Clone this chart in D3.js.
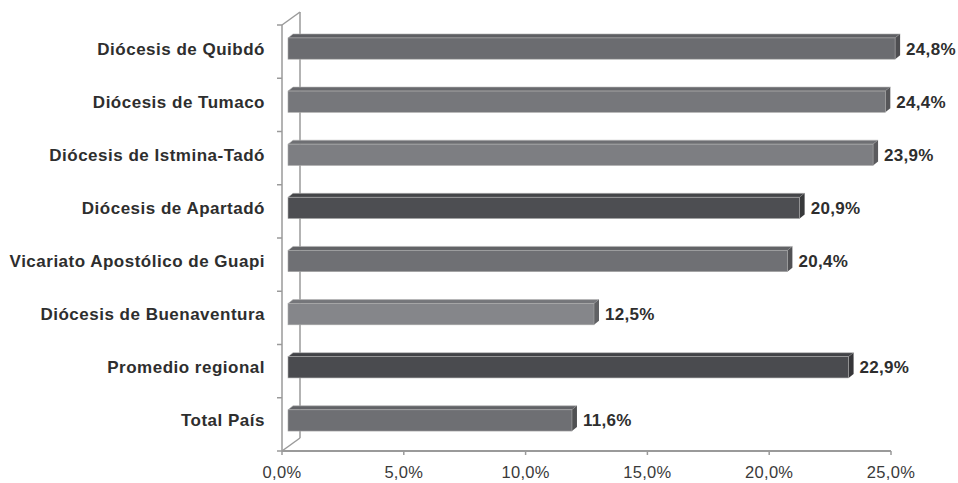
<!DOCTYPE html>
<html>
<head>
<meta charset="utf-8">
<script src="https://cdn.jsdelivr.net/npm/d3@7"></script>
<style>
  html, body { margin: 0; padding: 0; background: #fff; }
  svg { display: block; }
</style>
</head>
<body>
<svg id="chart" width="958" height="483"></svg>
<script>
// ---- data ----
const categories = [
  "Diócesis de Quibdó",
  "Diócesis de Tumaco",
  "Diócesis de Istmina-Tadó",
  "Diócesis de Apartadó",
  "Vicariato Apostólico de Guapi",
  "Diócesis de Buenaventura",
  "Promedio regional",
  "Total País"
];
const values = [24.8, 24.4, 23.9, 20.9, 20.4, 12.5, 22.9, 11.6];
const tickValues = [0, 5, 10, 15, 20, 25];
const barColors = ["#6b6c70", "#76777b", "#7d7e82", "#4d4e52", "#6f7074", "#85868a", "#4a4b4f", "#6e6f73"];

// ---- layout ----
const svg = d3.select("#chart");
const locale = d3.formatLocale({decimal: ",", thousands: ".", grouping: [3], currency: ["", ""]});
const fmt = v => locale.format(".1f")(v) + "%";

const xAxisScale = d3.scaleLinear().domain([0, 25]).range([282, 891]);
const xBar = d3.scaleLinear().domain([0, 25]).range([288, 900]);
const y = d3.scaleBand().domain(categories).range([22, 447]).paddingInner(0.6).paddingOuter(0.3);
const bounds = d3.scaleLinear().domain([0, categories.length]).range([25, 451]);

const dx = 5, dy = 4;
const wallDx = 18, wallDy = 13;
const gridCol = "#9a9a9a";
const fontFam = "Liberation Sans, Arial, sans-serif";

// walls
const g = svg.append("g");
const x0 = xAxisScale(0);
g.append("line").attr("x1", x0 + wallDx).attr("x2", x0 + wallDx)
  .attr("y1", bounds(0) - wallDy).attr("y2", bounds(categories.length) - wallDy)
  .attr("stroke", gridCol).attr("stroke-width", 1.5);
g.append("line").attr("x1", x0).attr("x2", x0 + wallDx)
  .attr("y1", bounds(0)).attr("y2", bounds(0) - wallDy)
  .attr("stroke", gridCol).attr("stroke-width", 1.5);
g.append("line").attr("x1", x0).attr("x2", x0 + wallDx)
  .attr("y1", bounds(categories.length)).attr("y2", bounds(categories.length) - wallDy)
  .attr("stroke", gridCol).attr("stroke-width", 1.5);
g.append("line").attr("x1", x0).attr("x2", x0)
  .attr("y1", bounds(0)).attr("y2", bounds(categories.length))
  .attr("stroke", gridCol).attr("stroke-width", 1.5);
g.selectAll(".ctick").data(d3.range(categories.length + 1)).join("line")
  .attr("x1", x0 - 5).attr("x2", x0)
  .attr("y1", d => bounds(d)).attr("y2", d => bounds(d))
  .attr("stroke", gridCol).attr("stroke-width", 1.5);

// value axis
g.append("line").attr("x1", x0).attr("x2", xAxisScale(25))
  .attr("y1", bounds(categories.length)).attr("y2", bounds(categories.length))
  .attr("stroke", gridCol).attr("stroke-width", 2);
g.selectAll(".vtick").data(tickValues).join("line")
  .attr("x1", d => xAxisScale(d)).attr("x2", d => xAxisScale(d))
  .attr("y1", bounds(categories.length)).attr("y2", bounds(categories.length) + 4)
  .attr("stroke", gridCol).attr("stroke-width", 1.5);
g.selectAll(".vlabel").data(tickValues).join("text")
  .attr("x", d => xAxisScale(d)).attr("y", 478)
  .attr("text-anchor", "middle")
  .attr("font-family", fontFam)
  .attr("font-size", 16.5).attr("letter-spacing", 0.3).attr("fill", "#3a3a3a")
  .text(d => fmt(d));

// bars
const bars = svg.append("g");
categories.forEach((c, i) => {
  const v = values[i];
  const xl = xBar(0), xr = xBar(v);
  const yt = y(c), h = y.bandwidth();
  const col = d3.color(barColors[i]);
  bars.append("polygon")
    .attr("points", [[xl, yt], [xl + dx, yt - dy], [xr + dx, yt - dy], [xr, yt]].join(" "))
    .attr("fill", col.darker(0.35)).attr("stroke", "#b5b5b5").attr("stroke-width", 0.6);
  bars.append("polygon")
    .attr("points", [[xr, yt], [xr + dx, yt - dy], [xr + dx, yt + h - dy], [xr, yt + h]].join(" "))
    .attr("fill", col.darker(0.9));
  bars.append("rect")
    .attr("x", xl).attr("y", yt).attr("width", xr - xl).attr("height", h)
    .attr("fill", col).attr("stroke", "#a8a8a8").attr("stroke-width", 0.6);
});

// category labels
svg.append("g").selectAll("text").data(categories).join("text")
  .attr("x", 265).attr("y", d => y(d) + y.bandwidth() / 2 + 6)
  .attr("text-anchor", "end")
  .attr("font-family", fontFam)
  .attr("font-weight", "bold").attr("font-size", 17).attr("letter-spacing", 0.5).attr("fill", "#2e2e2e")
  .text(d => d);

// value labels
svg.append("g").selectAll("text").data(categories).join("text")
  .attr("x", (d, i) => xBar(values[i]) + dx + 6)
  .attr("y", d => y(d) + y.bandwidth() / 2 + 6)
  .attr("font-family", fontFam)
  .attr("font-weight", "bold").attr("font-size", 17).attr("letter-spacing", 0.3).attr("fill", "#2e2e2e")
  .text((d, i) => fmt(values[i]));
</script>
</body>
</html>
